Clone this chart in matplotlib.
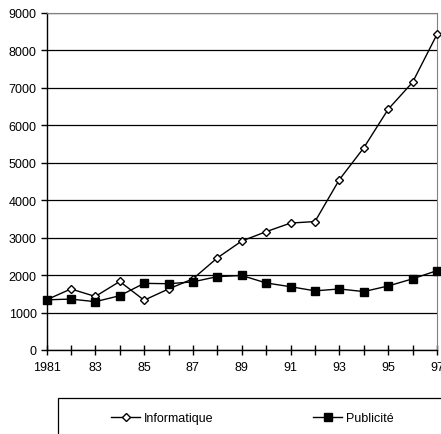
import matplotlib
matplotlib.use("Agg")
import matplotlib.pyplot as plt
from matplotlib.patches import Rectangle

plt.rcParams['font.family'] = ['Liberation Sans', 'DejaVu Sans']

years = list(range(1981, 1998))
informatique = [1340, 1630, 1430, 1830, 1330, 1630, 1900, 2460, 2910, 3160, 3390,
                3430, 4550, 5400, 6430, 7150, 8430]
publicite = [1340, 1360, 1290, 1450, 1780, 1770, 1820, 1960, 1990, 1790, 1690,
             1580, 1630, 1560, 1710, 1900, 2120]
year_labels = ['1981', '83', '85', '87', '89', '91', '93', '95', '97']

fig = plt.figure(figsize=(4.41, 4.35), dpi=100)
ax = fig.add_axes([46.5 / 441, 1 - 351 / 435, (437 - 46.5) / 441, (351 - 14) / 435])

ax.plot(years, informatique, color='black', lw=1.0, marker='D', markersize=4.2,
        markerfacecolor='white', markeredgecolor='black', markeredgewidth=1.0,
        label='Informatique', clip_on=False, zorder=4)
ax.plot(years, publicite, color='black', lw=1.0, marker='s', markersize=5.5,
        markerfacecolor='black', markeredgecolor='black',
        label='Publicité', clip_on=False, zorder=5)

ax.set_xlim(1981, 1997)
ax.set_ylim(0, 9000)
ax.set_yticks(range(0, 9001, 1000))
ax.yaxis.grid(True, color='black', lw=0.9)
ax.set_axisbelow(True)

# a tick every year, a label every other year
ax.set_xticks(years)
ax.set_xticklabels([year_labels[(y - 1981) // 2] if (y - 1981) % 2 == 0 else '' for y in years])
ax.tick_params(axis='x', direction='inout', length=7, width=1, labelsize=9, pad=4.5)
ax.tick_params(axis='y', direction='out', length=4, width=1, labelsize=9, pad=3)

for side in ['top', 'right']:
    ax.spines[side].set_color('#808080')
for side in ['left', 'bottom']:
    ax.spines[side].set_color('black')
    ax.spines[side].set_linewidth(1.0)

# legend box running off the bottom right of the figure
fig.patches.append(Rectangle((58 / 441, -0.05), 1.0, 1 - 399 / 435 + 0.05,
                             transform=fig.transFigure, facecolor='white',
                             edgecolor='black', lw=0.9))
fig.legend(loc='center left', bbox_to_anchor=(100 / 441, 1 - 419 / 435), ncol=2,
           frameon=False, fontsize=9, handlelength=2.3, handletextpad=0.3,
           columnspacing=8.0)

fig.savefig('out.png', dpi=100)
